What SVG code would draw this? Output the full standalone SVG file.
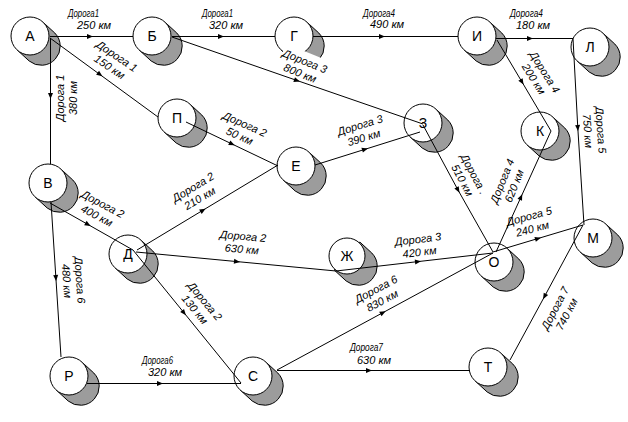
<svg xmlns="http://www.w3.org/2000/svg" xmlns:xlink="http://www.w3.org/1999/xlink" width="628" height="422" viewBox="0 0 628 422">
<style>
.cyl{fill:#9c9c9c;stroke:#000;stroke-width:1}
.face{fill:#fff;stroke:#000;stroke-width:1}
.nt{font-family:"Liberation Sans",Arial,sans-serif;font-size:14px;text-anchor:middle;fill:#000}
.c{fill:none;stroke:#000;stroke-width:1;marker-mid:url(#ar)}
.l{font-family:"Liberation Sans",Arial,sans-serif;font-size:11px;font-style:italic;fill:#000}
.lc{text-anchor:middle}
.bg{fill:#fff;stroke:none}
</style>
<defs>
<marker id="ar" viewBox="-4 -4 8 8" refX="0" refY="0" markerWidth="8" markerHeight="8" markerUnits="userSpaceOnUse" orient="auto">
<path d="M-3,-2.5 L3,0 L-3,2.5 Z" fill="#000"/>
</marker>
<path id="cyl" class="cyl" d="M12.8,-14 L24.8,-3 A19,19 0 0 1 -0.8,25 L-12.8,14 Z"/>
</defs>
<rect width="628" height="422" fill="#fff"/>
<g id="nodes">
<g id="node-A" transform="translate(30,36)"><use xlink:href="#cyl"/><circle class="face" r="19"/><text class="nt" y="5">А</text></g>
<g id="node-B1" transform="translate(152,36)"><use xlink:href="#cyl"/><circle class="face" r="19"/><text class="nt" y="5">Б</text></g>
<g id="node-G" transform="translate(294,36)"><use xlink:href="#cyl"/><circle class="face" r="19"/><text class="nt" y="5">Г</text></g>
<g id="node-I" transform="translate(477,36)"><use xlink:href="#cyl"/><circle class="face" r="19"/><text class="nt" y="5">И</text></g>
<g id="node-L" transform="translate(590,47)"><use xlink:href="#cyl"/><circle class="face" r="19"/><text class="nt" y="5">Л</text></g>
<g id="node-P1" transform="translate(177,118)"><use xlink:href="#cyl"/><circle class="face" r="19"/><text class="nt" y="5">П</text></g>
<g id="node-E" transform="translate(296,166)"><use xlink:href="#cyl"/><circle class="face" r="19"/><text class="nt" y="5">Е</text></g>
<g id="node-Z" transform="translate(423,123)"><use xlink:href="#cyl"/><circle class="face" r="19"/><text class="nt" y="5">З</text></g>
<g id="node-K" transform="translate(540,131)"><use xlink:href="#cyl"/><circle class="face" r="19"/><text class="nt" y="5">К</text></g>
<g id="node-V" transform="translate(48,183)"><use xlink:href="#cyl"/><circle class="face" r="19"/><text class="nt" y="5">В</text></g>
<g id="node-D" transform="translate(128,254)"><use xlink:href="#cyl"/><circle class="face" r="19"/><text class="nt" y="5">Д</text></g>
<g id="node-ZH" transform="translate(347,256)"><use xlink:href="#cyl"/><circle class="face" r="18"/><text class="nt" y="5">Ж</text></g>
<g id="node-O" transform="translate(494,262)"><use xlink:href="#cyl"/><circle class="face" r="19"/><text class="nt" y="5">О</text></g>
<g id="node-M" transform="translate(593,238)"><use xlink:href="#cyl"/><circle class="face" r="19"/><text class="nt" y="5">М</text></g>
<g id="node-R" transform="translate(69,376)"><use xlink:href="#cyl"/><circle class="face" r="19"/><text class="nt" y="5">Р</text></g>
<g id="node-S" transform="translate(253,376)"><use xlink:href="#cyl"/><circle class="face" r="19"/><text class="nt" y="5">С</text></g>
<g id="node-T" transform="translate(488,367)"><use xlink:href="#cyl"/><circle class="face" r="19"/><text class="nt" y="5">Т</text></g>
</g>
<g id="connectors">
<path class="c" d="M50,36.5 L90,36.5 L133,36.5"/>
<path class="c" d="M172,36.5 L221,36.5 L275,36.5"/>
<path class="c" d="M313,36.5 L382,36.5 L458,36.5"/>
<path class="c" d="M496,38.5 L530,38.5 L573,38.5"/>
<path class="c" d="M573,38.5 L577.8,128 L584,225"/>
<path class="c" d="M497,40 L522,82 L551,131"/>
<path class="c" d="M50.5,38 L50.5,96 L50.5,164"/>
<path class="c" d="M50,38 L100,74.6 L158,117"/>
<path class="c" d="M172,37 L297,80.5 L423,124"/>
<path class="c" d="M186,122 L232,144 L278,166"/>
<path class="c" d="M137,250 L203,210.2 L278,165"/>
<path class="c" d="M315,165 L365,149.3 L420,132"/>
<path class="c" d="M423,125 L458,190 L493,252"/>
<path class="c" d="M496,252 L521,197 L551,131"/>
<path class="c" d="M493,252 L538,238.5 L583,225"/>
<path class="c" d="M583,225 L544.5,296.5 L510,360"/>
<path class="c" d="M50,203 L88,224.5 L133,250"/>
<path class="c" d="M51,202 L55.9,278 L61,357"/>
<path class="c" d="M136,252 L237,261.6 L336,271"/>
<path class="c" d="M336,271 L418,261.6 L493,253"/>
<path class="c" d="M133,250 L184,312.8 L241,383"/>
<path class="c" d="M87,383.5 L160,383.5 L241,383.5"/>
<path class="c" d="M277,370.5 L369,370.5 L470,370.5"/>
<path class="c" d="M277,370 L383,312.6 L493,253"/>
</g>
<g id="labels" class="l">
<text x="68" y="17" textLength="31" lengthAdjust="spacingAndGlyphs">Дорога1</text>
<text x="77" y="29">250 км</text>
<text x="202" y="17" textLength="31" lengthAdjust="spacingAndGlyphs">Дорога1</text>
<text x="209" y="29">320 км</text>
<text x="363" y="17" textLength="32" lengthAdjust="spacingAndGlyphs">Дорога4</text>
<text x="370" y="28">490 км</text>
<text x="510" y="17" textLength="33" lengthAdjust="spacingAndGlyphs">Дорога4</text>
<text x="516" y="29">180 км</text>
<text x="142" y="364" textLength="31" lengthAdjust="spacingAndGlyphs">Дорога6</text>
<text x="148" y="376">320 км</text>
<text x="350" y="351" textLength="33" lengthAdjust="spacingAndGlyphs">Дорога7</text>
<text x="357" y="364">630 км</text>
<g class="lc" transform="translate(117,56) rotate(34)"><text y="4">Дорога 1</text><text y="17">150 км</text></g>
<g class="lc" transform="translate(60,98) rotate(-90)"><text y="4">Дорога 1</text><text y="17">380 км</text></g>
<g class="lc" transform="translate(305,61) rotate(22)"><rect class="bg" x="-24" y="-9" width="48" height="26.5"/><text y="4">Дорога 3</text><text y="17">800 км</text></g>
<g class="lc" transform="translate(245,124) rotate(24)"><text y="4">Дорога 2</text><text y="17">50 км</text></g>
<g class="lc" transform="translate(193,187) rotate(-31)"><text y="4">Дорога 2</text><text y="17">210 км</text></g>
<g class="lc" transform="translate(360,125) rotate(-17)"><text y="4">Дорога 3</text><text y="17">390 км</text></g>
<g class="lc" transform="translate(103,204) rotate(28)"><text y="4">Дорога 2</text><text y="17">400 км</text></g>
<g class="lc" transform="translate(80,280) rotate(86)"><text y="4">Дорога 6</text><text y="17">480 км</text></g>
<g class="lc" transform="translate(243,236) rotate(5)"><text y="4">Дорога 2</text><text y="17">630 км</text></g>
<g class="lc" transform="translate(418,239) rotate(-7)"><text y="4">Дорога 3</text><text y="17">420 км</text></g>
<g class="lc" transform="translate(205,301) rotate(50)"><text y="4">Дорога 2</text><text y="17">130 км</text></g>
<g class="lc" transform="translate(376,289) rotate(-28)"><rect class="bg" x="-24" y="-8" width="48" height="25.5"/><text y="4">Дорога 6</text><text y="17">830 км</text></g>
<g class="lc" transform="translate(474,174) rotate(62)"><text y="4">Дорога .</text><text y="17">510 км</text></g>
<g class="lc" transform="translate(502,181) rotate(-68)"><text y="4">Дорога 4</text><text y="17">620 км</text></g>
<g class="lc" transform="translate(529,216) rotate(-15)"><text y="4">Дорога 5</text><text y="17">240 км</text></g>
<g class="lc" transform="translate(555,308) rotate(-62)"><text y="4">Дорога 7</text><text y="17">740 км</text></g>
<g class="lc" transform="translate(545,72) rotate(58)"><text y="4">Дорога 4</text><text y="17">200 км</text></g>
<g class="lc" transform="translate(601,130) rotate(86)"><text y="4">Дорога 5</text><text y="17">750 км</text></g>
</g>
</svg>
